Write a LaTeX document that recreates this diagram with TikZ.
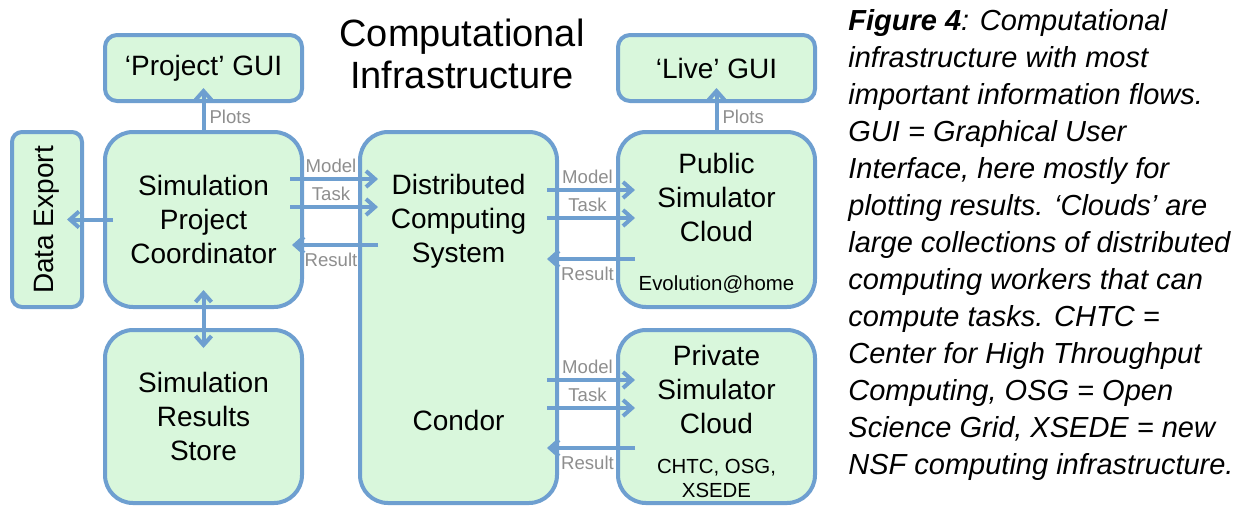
\documentclass[tikz,border=0pt]{standalone}
\usepackage{fontspec}
\setmainfont{Liberation Sans}
\usepackage{xcolor}
\usetikzlibrary{arrows.meta}
\definecolor{boxblue}{HTML}{6E9FD0}
\definecolor{boxgreen}{HTML}{D9F7DC}
\definecolor{flowgray}{HTML}{8E8E8E}

\begin{document}
\begin{tikzpicture}[
  x=0.5pt, y=-0.5pt,
  box/.style={draw=boxblue, fill=boxgreen, line width=2pt, rounded corners=14pt, inner sep=0pt},
  guibox/.style={box, rounded corners=6pt, minimum width=98.5pt, minimum height=33pt},
  bigbox/.style={box, minimum width=98.5pt, minimum height=87.5pt},
  boxtext/.style={align=center, inner sep=0pt, font=\fontsize{14}{17}\selectfont},
  smalltext/.style={align=center, inner sep=0pt, font=\fontsize{10.2}{12}\selectfont},
  flow/.style={-{Straight Barb[length=4.5pt,width=8pt]}, line width=2pt, draw=boxblue},
  flowlbl/.style={text=flowgray, inner sep=0pt, font=\fontsize{9.3}{11}\selectfont}
]
  \useasboundingbox (0,0) rectangle (1238,505);

  % title
  \node[boxtext, font=\fontsize{19}{21}\selectfont] (title) at (462,54) {Computational\\Infrastructure};

  % GUI row
  \node[guibox, boxtext] (projgui) at (203.5,68) {`Project' GUI};
  \node[guibox, boxtext] (livegui) at (716.5,68) {`Live' GUI};

  % left column
  \node[box, rounded corners=5pt, minimum width=35pt, minimum height=87.5pt] (export) at (47,219.5) {};
  \node[boxtext, rotate=90] (exportlbl) at (47,220) {Data Export};
  \node[bigbox, boxtext] (coord) at (203.5,219.5) {Simulation\\Project\\Coordinator};
  \node[bigbox, boxtext, minimum height=86.5pt] (store) at (203.5,416.5) {Simulation\\Results\\Store};

  % middle column
  \node[box, minimum width=98.5pt, minimum height=185.5pt] (dcs) at (458.5,317.5) {};
  \node[boxtext] (dcslbl) at (458.5,221) {Distributed\\Computing\\System};
  \node[boxtext] (condor) at (458.5,420) {Condor};

  % right column
  \node[bigbox] (public) at (716.5,219.5) {};
  \node[boxtext] (publiclbl) at (716.5,197.5) {Public\\Simulator\\Cloud};
  \node[smalltext] (evo) at (716.5,285) {Evolution@home};
  \node[bigbox, minimum height=86.5pt] (private) at (716.5,416.5) {};
  \node[boxtext] (privatelbl) at (716.5,389) {Private\\Simulator\\Cloud};
  \node[smalltext] (chtc) at (716.5,478) {CHTC, OSG,\\XSEDE};

  % flow rows
  \coordinate (ymodA) at (0,179);
  \coordinate (ytskA) at (0,207);
  \coordinate (yresA) at (0,245);
  \coordinate (ymodB) at (0,190);
  \coordinate (ytskB) at (0,218);
  \coordinate (yresB) at (0,259);
  \coordinate (ymodC) at (0,380);
  \coordinate (ytskC) at (0,408);
  \coordinate (yresC) at (0,448);

  % plots
  \draw[flow, shorten >=-7.5pt] (coord.north) -- (projgui.south) node[flowlbl, midway, right=2pt] {Plots};
  \draw[flow, shorten >=-7.5pt] (public.north) -- (livegui.south) node[flowlbl, midway, right=2pt] {Plots};

  % export and store
  \draw[flow, shorten <=-5pt, shorten >=-8.5pt] (coord.west) -- (export.east);
  \draw[flow, {Straight Barb[length=4.5pt,width=8pt]}-{Straight Barb[length=4.5pt,width=8pt]}, shorten <=-9.5pt, shorten >=-10pt] (coord.south) -- (store.north);

  % coordinator <-> distributed system
  \draw[flow, shorten <=-7pt, shorten >=-10pt] (coord.east |- ymodA) -- (dcs.west |- ymodA) node[flowlbl, midway, above=2pt] {Model};
  \draw[flow, shorten <=-7pt, shorten >=-10pt] (coord.east |- ytskA) -- (dcs.west |- ytskA) node[flowlbl, midway, above=2pt] {Task};
  \draw[flow, shorten <=-10pt, shorten >=-6pt] (dcs.west |- yresA) -- (coord.east |- yresA) node[flowlbl, midway, below=3pt] {Result};

  % distributed system <-> public cloud
  \draw[flow, shorten <=-6pt, shorten >=-9.5pt] (dcs.east |- ymodB) -- (public.west |- ymodB) node[flowlbl, midway, above=2pt] {Model};
  \draw[flow, shorten <=-6pt, shorten >=-9.5pt] (dcs.east |- ytskB) -- (public.west |- ytskB) node[flowlbl, midway, above=2pt] {Task};
  \draw[flow, shorten <=-9.5pt, shorten >=-6pt] (public.west |- yresB) -- (dcs.east |- yresB) node[flowlbl, midway, below=3pt] {Result};

  % distributed system <-> private cloud
  \draw[flow, shorten <=-6pt, shorten >=-9.5pt] (dcs.east |- ymodC) -- (private.west |- ymodC) node[flowlbl, midway, above=2pt] {Model};
  \draw[flow, shorten <=-6pt, shorten >=-9.5pt] (dcs.east |- ytskC) -- (private.west |- ytskC) node[flowlbl, midway, above=2pt] {Task};
  \draw[flow, shorten <=-9.5pt, shorten >=-6pt] (private.west |- yresC) -- (dcs.east |- yresC) node[flowlbl, midway, below=3pt] {Result};

  % caption
  \node[anchor=north west, align=left, inner sep=0pt, font=\fontsize{14.5}{18.5}\selectfont\itshape] (caption) at (848,9) {%
    \textbf{Figure 4}: Computational\\
    infrastructure with most\\
    important information flows.\\
    GUI = Graphical User\\
    Interface, here mostly for\\
    plotting results. `Clouds' are\\
    large collections of distributed\\
    computing workers that can\\
    compute tasks. CHTC =\\
    Center for High Throughput\\
    Computing, OSG = Open\\
    Science Grid, XSEDE = new\\
    NSF computing infrastructure.};
\end{tikzpicture}
\end{document}
